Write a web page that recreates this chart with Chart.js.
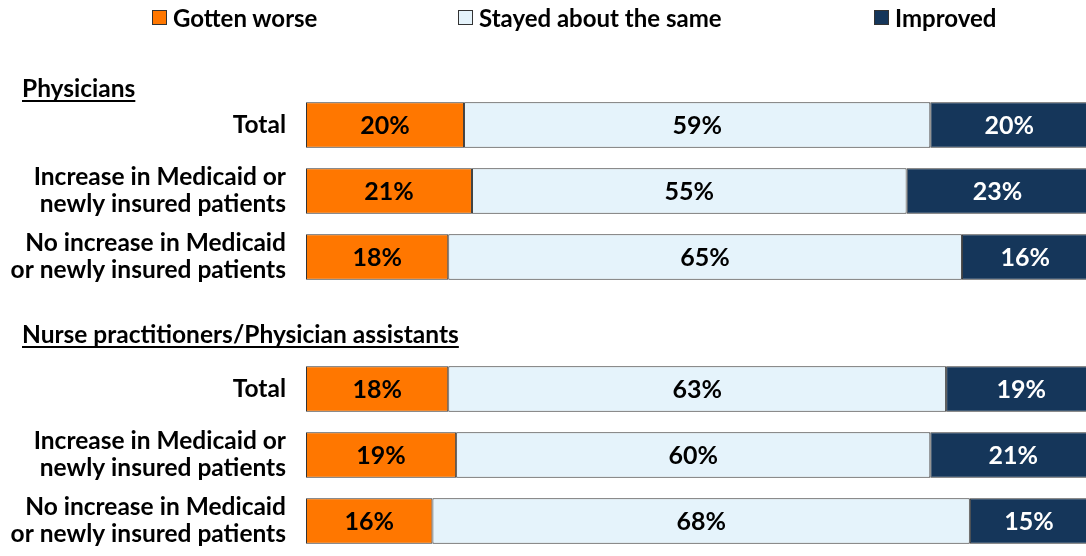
<!DOCTYPE html>
<html>
<head>
<meta charset="utf-8">
<script src="https://cdn.jsdelivr.net/npm/chart.js@4.4.1/dist/chart.umd.min.js"></script>
<style>
    body { margin: 0; background: #fff; }
    #wrap { position: relative; width: 1086px; height: 556px; }
    #legend { position: absolute; left: 0; top: 3px; width: 1086px; font: bold 24px Lato, sans-serif; color: #000; }
    .item { position: absolute; top: 0; display: flex; align-items: center; white-space: nowrap; }
    .box { width: 13px; height: 13px; border: 1px solid #333; margin-right: 6px; }
</style>
</head>
<body>
<div id="wrap">
    <canvas id="barChart" width="1086" height="556"></canvas>
    <div id="legend"></div>
</div>
<script>
// filas (el hueco en la posición 3 separa los dos grupos)
const rowLabels = [
    'Total',
    ['Increase in Medicaid or', 'newly insured patients'],
    ['No increase in Medicaid', 'or newly insured patients'],
    '',
    'Total',
    ['Increase in Medicaid or', 'newly insured patients'],
    ['No increase in Medicaid', 'or newly insured patients']
];
const groupHeadings = ['Physicians', 'Nurse practitioners/Physician assistants'];
const seriesNames = ['Gotten worse', 'Stayed about the same', 'Improved'];
const seriesColors = ['#ff7700', '#e5f3fb', '#15365a'];
const labelColors = ['#000', '#000', '#fff'];

const gottenWorse = [20, 21, 18, null, 18, 19, 16];
const stayedSame = [59, 55, 65, null, 63, 60, 68];
const improved = [20, 23, 16, null, 19, 21, 15];

const FONT = 'Lato, sans-serif';
const legendLeft = [152, 458, 874];

// leyenda en html
const legendDiv = document.getElementById('legend');
seriesNames.forEach((name, i) => {
    let item = document.createElement('div');
    item.className = 'item';
    item.style.left = legendLeft[i] + 'px';
    item.innerHTML = '<span class="box" style="background:' + seriesColors[i] + '"></span>' + name;
    legendDiv.appendChild(item);
});

// titulos subrayados de cada grupo
const headingsPlugin = {
    id: 'headings',
    afterDraw(chart) {
        const ctx = chart.ctx;
        const y = chart.scales.y;
        const pos = [y.getPixelForValue(0) - 36, y.getPixelForValue(3) + 12];
        ctx.save();
        ctx.font = 'bold 24.5px ' + FONT;
        ctx.fillStyle = '#000';
        ctx.textAlign = 'left';
        ctx.textBaseline = 'alphabetic';
        groupHeadings.forEach((txt, i) => {
            let base = pos[i] + 8;
            ctx.fillText(txt, 22, base);
            let w = ctx.measureText(txt).width;
            ctx.fillRect(22, base + 3, w, 2);
        });
        ctx.restore();
    }
};

// porcentajes dentro de las barras
const valueLabels = {
    id: 'valueLabels',
    afterDatasetsDraw(chart) {
        const ctx = chart.ctx;
        ctx.save();
        ctx.font = 'bold 25px ' + FONT;
        ctx.textAlign = 'center';
        ctx.textBaseline = 'middle';
        chart.data.datasets.forEach((ds, di) => {
            const meta = chart.getDatasetMeta(di);
            ctx.fillStyle = labelColors[di];
            meta.data.forEach((bar, i) => {
                if (ds.data[i] === null) return;
                ctx.fillText(ds.data[i] + '%', (bar.x + bar.base) / 2, bar.y + 1);
            });
        });
        ctx.restore();
    }
};

const datasets = [gottenWorse, stayedSame, improved].map((values, i) => ({
    label: seriesNames[i],
    data: values,
    backgroundColor: seriesColors[i],
    borderColor: '#333',
    borderWidth: 1,
    borderSkipped: false,
    barPercentage: 0.69,
    categoryPercentage: 1
}));

new Chart(document.getElementById('barChart'), {
    type: 'bar',
    data: { labels: rowLabels, datasets: datasets },
    options: {
        indexAxis: 'y',
        responsive: false,
        animation: false,
        layout: { padding: { top: 92, bottom: 2, left: 0, right: 0 } },
        plugins: {
            legend: { display: false },
            tooltip: { enabled: false }
        },
        scales: {
            x: {
                stacked: true,
                min: 0,
                max: 98.7,
                display: false
            },
            y: {
                stacked: true,
                grid: { display: false },
                border: { display: false },
                ticks: {
                    color: '#000',
                    padding: 12,
                    font: { family: FONT, size: 24.5, weight: 'bold', lineHeight: 1.1 }
                },
                afterFit(scale) {
                    scale.width = 306;
                    scale.paddingTop = 0;
                    scale.paddingBottom = 0;
                }
            }
        }
    },
    plugins: [headingsPlugin, valueLabels]
});
</script>
</body>
</html>
